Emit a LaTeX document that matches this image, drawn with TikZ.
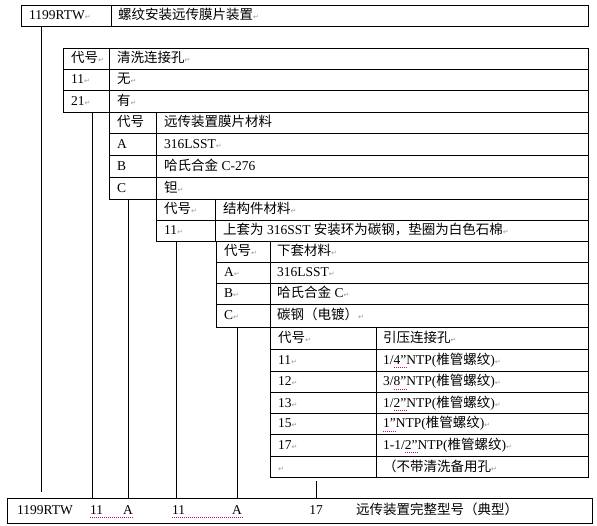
\documentclass[tikz,border=0pt]{standalone}
\usepackage{fontspec}
\setmainfont{Liberation Serif}
\newfontfamily\cjk{Noto Sans CJK SC}
\newfontfamily\dvs{DejaVu Sans}
\newcommand\pmk{{\dvs\fontsize{7}{7}\selectfont\textcolor{black!40}{↵}}}
\newcommand\zh[1]{{\cjk #1}}
\tikzset{
  grid/.style={line width=0.9pt, black},
  txt/.style={anchor=base west, inner sep=0pt, font=\fontsize{13.5}{14}\selectfont},
  ctxt/.style={anchor=base, inner sep=0pt, font=\fontsize{13.5}{14}\selectfont},
  spell/.style={draw=magenta!80!blue, line width=0.7pt, dash pattern=on 0.8pt off 1.2pt}
}
\begin{document}
\begin{tikzpicture}[x=1pt,y=-1pt]
\useasboundingbox (0,0) rectangle (597,526);
% ---------- top box
\draw[grid] (21,5) rectangle (588,26) (111,5) -- (111,26);
\node[txt] (top1) at (29,20) {1199RTW\pmk};
\node[txt] (top2) at (118,20) {\zh{螺纹安装远传膜片装置}\pmk};
% ---------- table 1
\draw[grid] (63,48) rectangle (588,112);
\draw[grid] (63,69) -- (588,69) (63,90) -- (588,90) (109,48) -- (109,112);
\node[txt] (a1) at (71,63) {\zh{代号}\pmk};
\node[txt] (a2) at (117,63) {\zh{清洗连接孔}\pmk};
\node[txt] (a3) at (71,84) {11\pmk};
\node[txt] (a4) at (117,84) {\zh{无}\pmk};
\node[txt] (a5) at (71,105.5) {21\pmk};
\node[txt] (a6) at (117,105.5) {\zh{有}\pmk};
% ---------- table 2
\draw[grid] (109,112) rectangle (588,199);
\draw[grid] (109,133) -- (588,133) (109,155) -- (588,155) (109,177) -- (588,177) (156.5,112) -- (156.5,199);
\node[txt] (b1) at (117,127) {\zh{代号}};
\node[txt] (b2) at (164,127) {\zh{远传装置膜片材料}};
\node[txt] (b3) at (117,148.5) {A};
\node[txt] (b4) at (164,148.5) {316LSST\pmk};
\node[txt] (b5) at (117,170.5) {B};
\node[txt] (b6) at (164,170.5) {\zh{哈氏合金} C-276};
\node[txt] (b7) at (117,192.5) {C};
\node[txt] (b8) at (164,192.5) {\zh{钽}\pmk};
% ---------- table 3
\draw[grid] (156.5,199) rectangle (588,241);
\draw[grid] (156.5,220) -- (588,220) (215,199) -- (215,241);
\node[txt] (c1) at (164,214) {\zh{代号}\pmk};
\node[txt] (c2) at (223,214) {\zh{结构件材料}\pmk};
\node[txt] (c3) at (164,235) {11\pmk};
\node[txt] (c4) at (223,235) {\zh{上套为} 316SST \zh{安装环为碳钢，垫圈为白色石棉}\pmk};
% ---------- table 4
\draw[grid] (216,241) rectangle (588,327.5);
\draw[grid] (216,262) -- (588,262) (216,283) -- (588,283) (216,304) -- (588,304) (270,241) -- (270,327.5);
\node[txt] (d1) at (224,256) {\zh{代号}\pmk};
\node[txt] (d2) at (277,256) {\zh{下套材料}\pmk};
\node[txt] (d3) at (224,277) {A\pmk};
\node[txt] (d4) at (277,277) {316LSST\pmk};
\node[txt] (d5) at (224,298) {B\pmk};
\node[txt] (d6) at (277,298) {\zh{哈氏合金} C\pmk};
\node[txt] (d7) at (224,320) {C\pmk};
\node[txt] (d8) at (277,320) {\zh{碳钢（电镀）}\pmk};
% ---------- table 5
\draw[grid] (270,327.5) rectangle (588,477);
\draw[grid] (270,349) -- (588,349) (270,371) -- (588,371) (270,392) -- (588,392)
  (270,413) -- (588,413) (270,434) -- (588,434) (270,456) -- (588,456) (376,327.5) -- (376,477);
\node[txt] (e1) at (278,342.5) {\zh{代号}\pmk};
\node[txt] (e2) at (383,342.5) {\zh{引压连接孔}\pmk};
\node[txt] (e3) at (278,364.5) {11\pmk};
\node[txt] (e4) at (383,364.5) {1/4”NTP(\zh{椎管螺纹})\pmk};
\node[txt] (e5) at (278,386) {12\pmk};
\node[txt] (e6) at (383,386) {3/8”NTP(\zh{椎管螺纹})\pmk};
\node[txt] (e7) at (278,407) {13\pmk};
\node[txt] (e8) at (383,407) {1/2”NTP(\zh{椎管螺纹})\pmk};
\node[txt] (e9) at (278,428) {15\pmk};
\node[txt] (e10) at (383,428) {1”NTP(\zh{椎管螺纹})\pmk};
\node[txt] (e11) at (278,449.5) {17\pmk};
\node[txt] (e12) at (383,449.5) {1-1/2”NTP(\zh{椎管螺纹})\pmk};
\node[txt] (e13) at (278,471) {\pmk};
\node[txt] (e14) at (383,471) {\zh{（不带清洗备用孔}\pmk};
% spelling marks under the inch values
\draw[spell] (393.5,367.5) -- (406,367.5);
\draw[spell] (393.5,389) -- (406,389);
\draw[spell] (393.5,410) -- (406,410);
\draw[spell] (383,431) -- (395.5,431);
\draw[spell] (404.7,452.5) -- (417,452.5);
% ---------- bottom model box
\node[draw, grid, anchor=north west, inner sep=0pt, minimum width=585pt, minimum height=25pt] (model) at (7,498) {};
\node[txt] (m1) at (17,514) {1199RTW};
\node[txt] (m2) at (90,514) {11};
\node[ctxt] (m3) at (128,514) {A};
\node[txt] (m4) at (172,514) {11};
\node[ctxt] (m5) at (237,514) {A};
\node[ctxt] (m6) at (316,514) {17};
\node[txt] (m7) at (356,514) {\zh{远传装置完整型号（典型）}};
\draw[spell] (m2.base west |- 0,517) -- (m3.base east |- 0,517);
\draw[spell] (m4.base west |- 0,517) -- (m5.base east |- 0,517);
% ---------- connector lines
\coordinate (s1) at (41,26);
\coordinate (s1e) at (41,492);
\coordinate (s2) at (92,112);
\coordinate (s3) at (128,199);
\coordinate (s4) at (176,241);
\coordinate (s5) at (237,327.5);
\coordinate (s6) at (316,481);
\draw[grid] (s1) -- (s1e);
\draw[grid] (s2) -- (s2 |- model.north);
\draw[grid] (s3) -- (s3 |- model.north);
\draw[grid] (s4) -- (s4 |- model.north);
\draw[grid] (s5) -- (s5 |- model.north);
\draw[grid] (s6) -- (s6 |- model.north);
\end{tikzpicture}
\end{document}
